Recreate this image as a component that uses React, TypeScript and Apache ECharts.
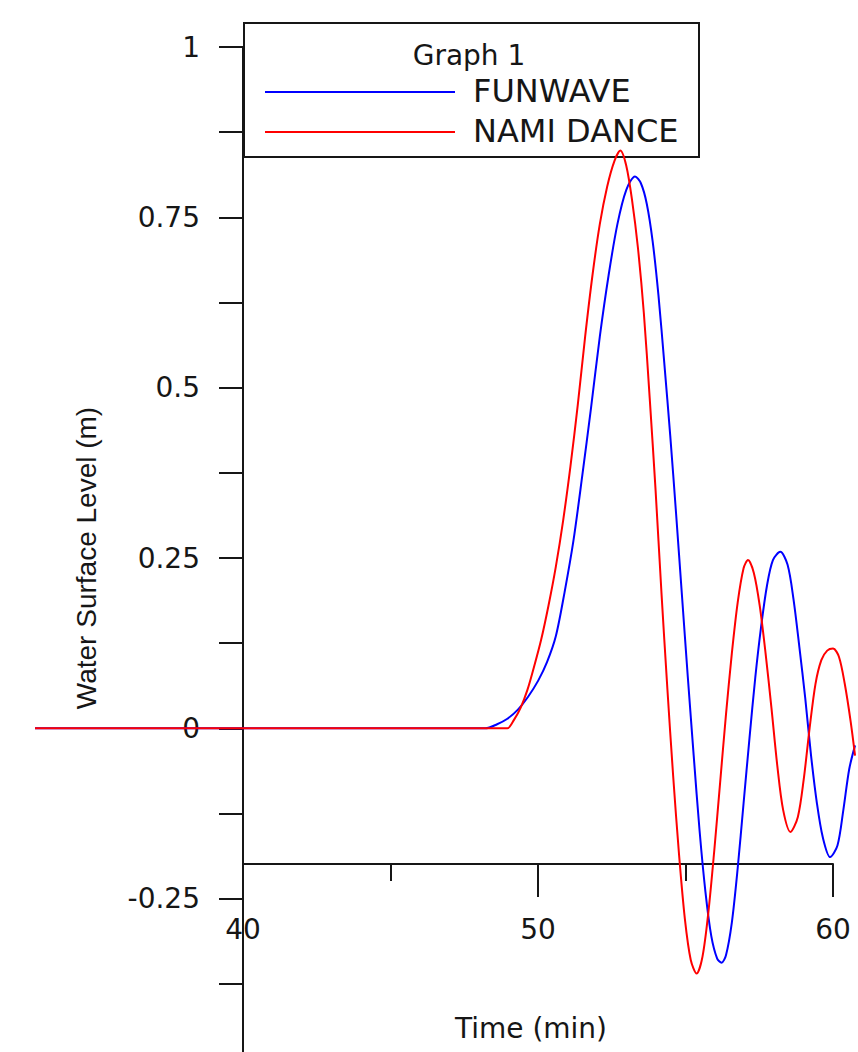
import React, { useEffect, useRef } from "react";
import * as echarts from "echarts";

// NAMI DANCE (red) time series
const namiTime = [
  32.95, 48.9, 49.05, 49.27, 49.5, 49.73, 49.95, 50.2, 50.45, 50.7, 50.95, 51.2, 51.45, 51.7, 51.95,
  52.2, 52.45, 52.7, 52.9, 53.1, 53.3, 53.5, 53.7, 53.9, 54.1, 54.3, 54.5, 54.7, 54.9, 55.1, 55.3,
  55.5, 55.7, 55.9, 56.1, 56.3, 56.5, 56.7, 56.9, 57.1, 57.25, 57.45, 57.65, 57.85, 58.05, 58.25,
  58.45, 58.7, 58.95, 59.15, 59.35, 59.55, 59.75, 59.95, 60.15, 60.35, 60.55, 60.75, 60.9,
];
const namiLevel = [
  0, 0, 0, 0.012, 0.03, 0.056, 0.089, 0.13, 0.18, 0.237, 0.305, 0.385, 0.475, 0.575, 0.665,
  0.74, 0.795, 0.833, 0.848, 0.826, 0.775, 0.705, 0.61, 0.485, 0.35, 0.2, 0.06, -0.07, -0.185, -0.28, -0.34,
  -0.36, -0.335, -0.27, -0.18, -0.08, 0.02, 0.11, 0.185, 0.235, 0.247, 0.228, 0.18, 0.11, 0.03, -0.055,
  -0.12, -0.152, -0.13, -0.075, 0.0, 0.065, 0.1, 0.114, 0.117, 0.105, 0.065, 0.01, -0.04,
];

// FUNWAVE (blue) time series
const funwaveTime = [
  32.95, 48.3, 48.7, 49.05, 49.4, 49.75, 50.1, 50.4, 50.7, 51.0, 51.3, 51.6, 51.9, 52.2, 52.5,
  52.8, 53.1, 53.4, 53.6, 53.8, 54.0, 54.2, 54.4, 54.6, 54.8, 55.0, 55.2, 55.4, 55.6, 55.8, 56.0,
  56.2, 56.35, 56.5, 56.7, 56.9, 57.1, 57.3, 57.5, 57.7, 57.9, 58.1, 58.35, 58.6, 58.8, 59.0,
  59.2, 59.4, 59.6, 59.8, 60.05, 60.3, 60.5, 60.7, 60.9,
];
const funwaveLevel = [
  0, 0, 0.006, 0.014, 0.027, 0.046, 0.07, 0.097, 0.135, 0.2, 0.275, 0.37, 0.47, 0.575, 0.665,
  0.74, 0.79, 0.81, 0.8, 0.77, 0.715, 0.635, 0.535, 0.43, 0.315, 0.195, 0.075, -0.04, -0.15, -0.24, -0.305,
  -0.338, -0.344, -0.333, -0.285, -0.205, -0.11, -0.015, 0.075, 0.15, 0.21, 0.247, 0.259, 0.24, 0.19, 0.12,
  0.045, -0.04, -0.11, -0.16, -0.189, -0.172, -0.12, -0.06, -0.025,
];

const xTickLabels = ["40", "50", "60"];
const yTickLabels = ["-0.25", "0", "0.25", "0.5", "0.75", "1"];
const seriesNames = ["FUNWAVE", "NAMI DANCE"];
const seriesColors = ["#0000ff", "#ff0000"];
const legendTitle = "Graph 1";
const xAxisTitle = "Time (min)";
const yAxisTitle = "Water Surface Level (m)";

export default function App() {
  const ref = useRef<HTMLDivElement>(null);

  useEffect(() => {
    const chart = echarts.init(ref.current!, null, { renderer: "svg" });
    const zip = (t: number[], v: number[]) => t.map((x, i) => [x, v[i]]);
    const font = "DejaVu Sans";
    const ink = "#161616";
    const axisLineStyle = { color: ink, width: 2 };

    // visible axes frame
    const axisLeft = 243;
    const axisWidth = 590;
    const xMin = 40;
    const xMax = 60;
    const pxPerMin = axisWidth / (xMax - xMin);
    // wider, hidden frame on the same scale so the traces run past the axes
    const dataMin = 32.9;
    const dataMax = 61;
    const dataLeft = axisLeft - (xMin - dataMin) * pxPerMin;
    const dataWidth = (dataMax - dataMin) * pxPerMin;

    chart.setOption({
      animation: false,
      grid: [
        { left: axisLeft, top: 47, width: axisWidth, height: 1022, containLabel: false },
        { left: dataLeft, top: 47, width: dataWidth, height: 1022, containLabel: false },
      ],
      xAxis: [
        {
          gridIndex: 0,
          type: "value",
          min: xMin,
          max: xMax,
          interval: 10,
          offset: -205,
          axisLine: { onZero: false, lineStyle: axisLineStyle },
          axisTick: { length: 33, lineStyle: axisLineStyle },
          minorTick: { show: true, splitNumber: 2, length: 17, lineStyle: axisLineStyle },
          splitLine: { show: false },
          minorSplitLine: { show: false },
          axisLabel: {
            margin: 51,
            fontFamily: font,
            fontSize: 28,
            color: ink,
            formatter: (v: number) => (xTickLabels.includes(String(v)) ? String(v) : ""),
          },
          name: xAxisTitle,
          nameLocation: "middle",
          nameGap: 150,
          nameTextStyle: { fontFamily: font, fontSize: 28, color: ink, padding: [0, 14, 0, 0] },
        },
        {
          gridIndex: 1,
          type: "value",
          min: dataMin,
          max: dataMax,
          show: false,
          splitLine: { show: false },
        },
      ],
      yAxis: [
        {
          gridIndex: 0,
          type: "value",
          min: -0.5,
          max: 1,
          interval: 0.25,
          axisLine: { show: true, onZero: false, lineStyle: axisLineStyle },
          axisTick: { show: true, length: 24, lineStyle: axisLineStyle },
          minorTick: { show: true, splitNumber: 2, length: 24, lineStyle: axisLineStyle },
          splitLine: { show: false },
          minorSplitLine: { show: false },
          axisLabel: {
            margin: 43,
            fontFamily: font,
            fontSize: 28,
            color: ink,
            formatter: (v: number) => (yTickLabels.includes(String(v)) ? String(v) : ""),
          },
          name: yAxisTitle,
          nameLocation: "middle",
          nameGap: 143,
          nameTextStyle: { fontFamily: "Liberation Sans", fontSize: 28, color: ink },
        },
        {
          gridIndex: 1,
          type: "value",
          min: -0.5,
          max: 1,
          show: false,
          splitLine: { show: false },
        },
      ],
      series: [
        {
          name: seriesNames[0],
          type: "line",
          xAxisIndex: 1,
          yAxisIndex: 1,
          data: zip(funwaveTime, funwaveLevel),
          showSymbol: false,
          smooth: 0.3,
          clip: false,
          color: seriesColors[0],
          lineStyle: { color: seriesColors[0], width: 2 },
          z: 3,
        },
        {
          name: seriesNames[1],
          type: "line",
          xAxisIndex: 1,
          yAxisIndex: 1,
          data: zip(namiTime, namiLevel),
          showSymbol: false,
          smooth: 0.3,
          clip: false,
          color: seriesColors[1],
          lineStyle: { color: seriesColors[1], width: 2 },
          z: 4,
        },
      ],
      graphic: [
        {
          type: "rect",
          z: 1,
          shape: { x: 244, y: 23, width: 455, height: 134 },
          style: { fill: "none", stroke: ink, lineWidth: 2 },
        },
        {
          type: "text",
          z: 5,
          x: 469,
          y: 55,
          style: { text: legendTitle, font: `28px "${font}"`, fill: ink, align: "center", verticalAlign: "middle" },
        },
        {
          type: "line",
          z: 5,
          shape: { x1: 265, y1: 92, x2: 455, y2: 92 },
          style: { stroke: seriesColors[0], lineWidth: 2 },
        },
        {
          type: "text",
          z: 5,
          x: 473,
          y: 91,
          style: { text: seriesNames[0], font: `32px "${font}"`, fill: ink, align: "left", verticalAlign: "middle" },
        },
        {
          type: "line",
          z: 5,
          shape: { x1: 265, y1: 132, x2: 455, y2: 132 },
          style: { stroke: seriesColors[1], lineWidth: 2 },
        },
        {
          type: "text",
          z: 5,
          x: 473,
          y: 131,
          style: { text: seriesNames[1], font: `32px "${font}"`, fill: ink, align: "left", verticalAlign: "middle" },
        },
      ],
    });

    return () => chart.dispose();
  }, []);

  return (
    <div style={{ position: "absolute", left: 0, top: 0, width: 858, height: 1052, overflow: "hidden" }}>
      <div ref={ref} style={{ width: 858, height: 1080 }} />
    </div>
  );
}
